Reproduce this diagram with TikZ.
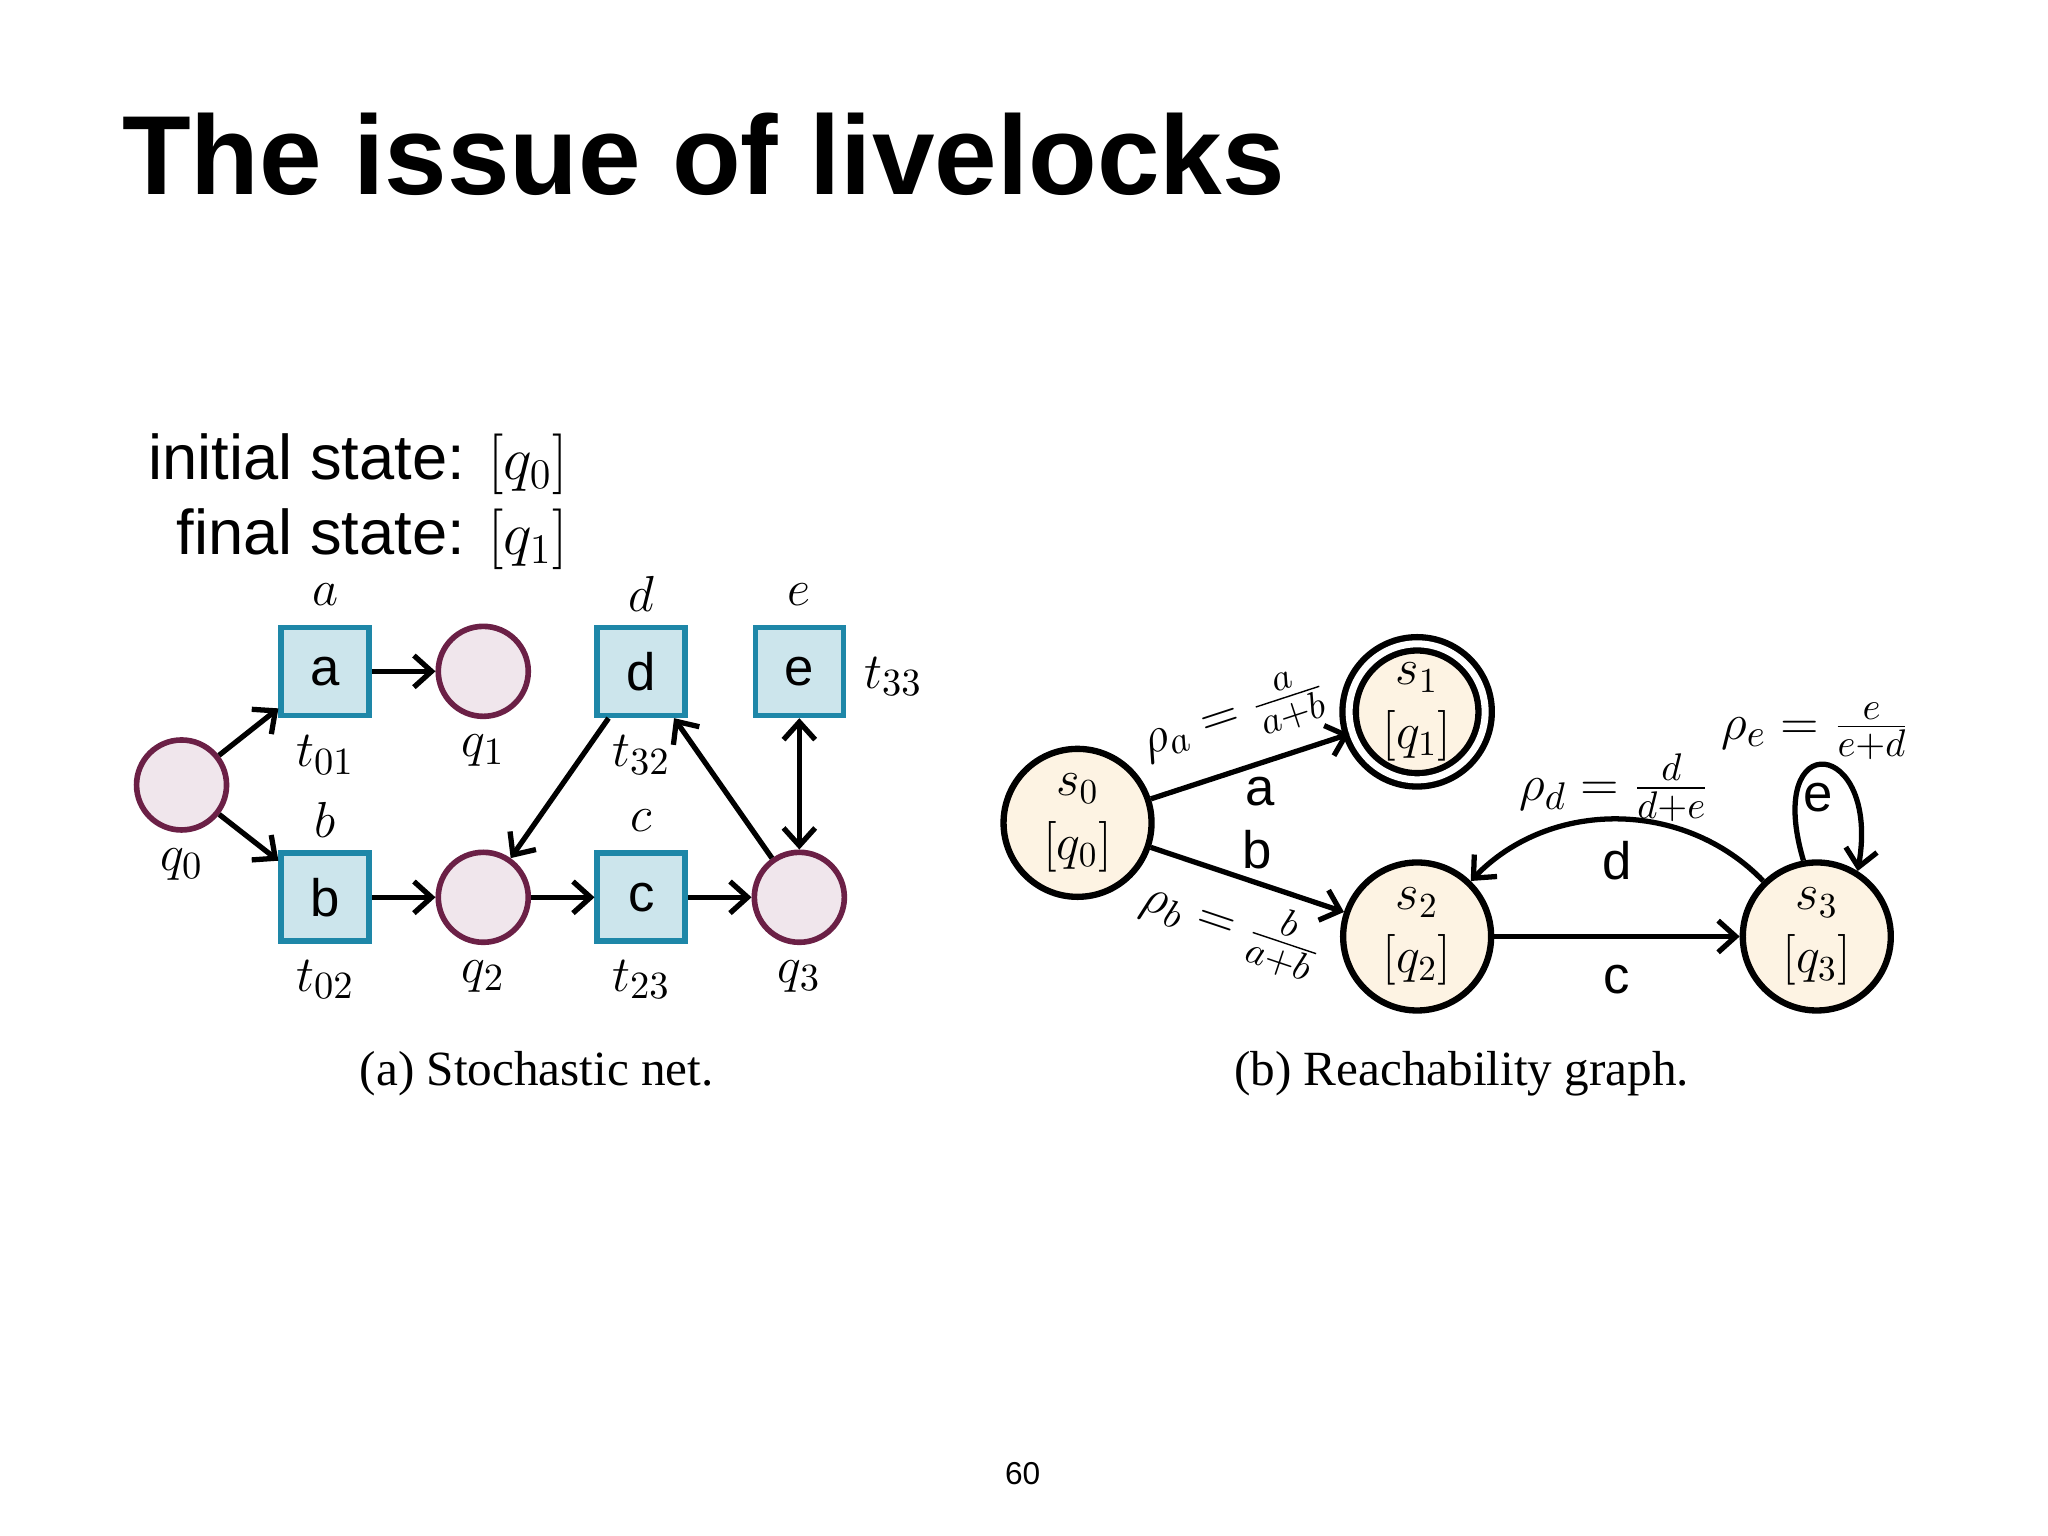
\documentclass[tikz,border=0pt]{standalone}
\usepackage{fontspec}
\setmainfont{Liberation Sans}
\newfontfamily\capfont{Liberation Serif}
\usetikzlibrary{arrows.meta}
\definecolor{tfill}{HTML}{CCE5EC}
\definecolor{tdraw}{HTML}{1E87A8}
\definecolor{pfill}{HTML}{F0E6EC}
\definecolor{pdraw}{HTML}{6B2046}
\definecolor{sfill}{HTML}{FDF3E3}
\begin{document}
\begin{tikzpicture}[x=0.01306cm,y=-0.01306cm,
  trans/.style={draw=tdraw,fill=tfill,line width=1.6pt,minimum size=0.88cm,inner sep=0pt,font=\fontsize{15}{15}\selectfont},
  place/.style={circle,draw=pdraw,fill=pfill,line width=1.6pt,minimum size=0.9cm,inner sep=0pt},
  st/.style={circle,draw=black,fill=sfill,line width=1.8pt,minimum size=1.48cm,inner sep=0pt,align=center,font=\fontsize{14}{18}\selectfont},
  lab/.style={font=\fontsize{15}{15}\selectfont},
  arr/.style={-{Straight Barb[length=5pt,width=9pt]},line width=1.5pt},
  el/.style={font=\fontsize{15}{15}\selectfont}]
\useasboundingbox (0,0) rectangle (1568,1176);
\node[anchor=west,font=\bfseries\fontsize{32}{32}\selectfont] (title) at (84,118) {The issue of livelocks};
\node[anchor=east,font=\fontsize{18}{18}\selectfont] (init) at (444,355) {initial state: $[q_0]$};
\node[anchor=east,font=\fontsize{18}{18}\selectfont] (fin) at (444,413) {final state: $[q_1]$};
% Petri net
\node[place] (q0) at (139,601) {};
\node[trans] (a) at (249,514) {a};
\node[place] (q1) at (370,514) {};
\node[trans] (d) at (491,514) {d};
\node[trans] (e) at (612,514) {e};
\node[trans] (b) at (249,687) {b};
\node[place] (q2) at (370,687) {};
\node[trans] (c) at (491,687) {c};
\node[place] (q3) at (612,687) {};
\node[lab] (la) at (249,455) {$a$};
\node[lab] (ld) at (491,455) {$d$};
\node[lab] (le) at (612,455) {$e$};
\node[lab] (lb) at (249,628) {$b$};
\node[lab] (lc) at (491,628) {$c$};
\node[lab] (lt01) at (249,578) {$t_{01}$};
\node[lab] (lq1) at (370,575) {$q_1$};
\node[lab] (lt32) at (491,578) {$t_{32}$};
\node[lab] (lt33) at (684,518) {$t_{33}$};
\node[lab] (lq0) at (139,662) {$q_0$};
\node[lab] (lt02) at (249,750) {$t_{02}$};
\node[lab] (lq2) at (370,748) {$q_2$};
\node[lab] (lt23) at (491,750) {$t_{23}$};
\node[lab] (lq3) at (612,748) {$q_3$};
\draw[arr] (q0) -- (a);
\draw[arr] (q0) -- (b);
\draw[arr] (a) -- (q1);
\draw[arr] (b) -- (q2);
\draw[arr] (q2) -- (c);
\draw[arr] (c) -- (q3);
\draw[arr] (d) -- (q2);
\draw[arr] (q3) -- (d);
\draw[arr,{Straight Barb[length=5pt,width=9pt]}-{Straight Barb[length=5pt,width=9pt]}] (e) -- (q3);
\node[font=\capfont\fontsize{14}{14}\selectfont] (capa) at (411,822) {(a) Stochastic net.};
% Reachability graph
\node[st] (s0) at (825,630) {$s_0$\\$[q_0]$};
\node[st,double,double distance=2pt,minimum size=1.36cm] (s1) at (1085,545) {$s_1$\\$[q_1]$};
\node[st] (s2) at (1085,717) {$s_2$\\$[q_2]$};
\node[st] (s3) at (1391,717) {$s_3$\\$[q_3]$};
\draw[arr] (s0) -- node[sloped,above,lab,yshift=2pt]{$\rho_a=\frac{a}{a+b}$} node[below,el,pos=0.55]{a} (s1);
\draw[arr] (s0) -- node[sloped,below,lab]{$\rho_b=\frac{b}{a+b}$} node[above,el,pos=0.55]{b} (s2);
\draw[arr] (s2) -- node[below,el,yshift=-4pt]{c} (s3);
\draw[arr] (s3) to[bend right=46] node[below,el,yshift=-2pt]{d} (s2);
\node[lab] (rd) at (1236,603) {$\rho_d=\frac{d}{d+e}$};
\draw[arr] (s3.100) .. controls (1350,555) and (1440,565) .. (s3.58);
\node[el] (le2) at (1392,611) {e};
\node[lab] (re) at (1390,560) {$\rho_e=\frac{e}{e+d}$};
\node[font=\capfont\fontsize{14}{14}\selectfont] (capb) at (1119,822) {(b) Reachability graph.};
\node[font=\fontsize{9}{9}\selectfont] (pg) at (783,1128) {60};
\end{tikzpicture}
\end{document}
